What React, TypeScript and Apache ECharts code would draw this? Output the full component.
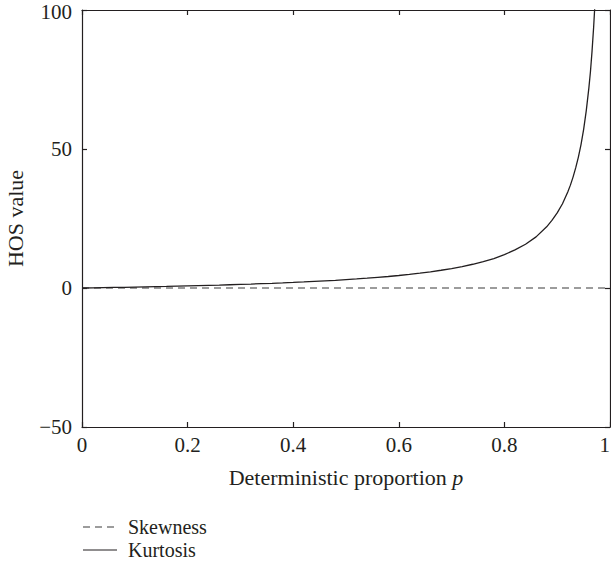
import React, { useEffect, useRef } from "react";
import * as echarts from "echarts";

const pValues = [0, 0.02, 0.04, 0.06, 0.08, 0.1, 0.12, 0.14, 0.16, 0.18, 0.2, 0.22, 0.24, 0.26, 0.28, 0.3, 0.32, 0.34, 0.36, 0.38, 0.4, 0.42, 0.44, 0.46, 0.48, 0.5, 0.52, 0.54, 0.56, 0.58, 0.6, 0.62, 0.64, 0.66, 0.68, 0.7, 0.72, 0.74, 0.76, 0.78, 0.8, 0.82, 0.84, 0.86, 0.88, 0.89, 0.9, 0.91, 0.92, 0.925, 0.93, 0.935, 0.94, 0.945, 0.95, 0.955, 0.96, 0.963, 0.966, 0.969, 0.972];
const kurtosisValues = [0, 0.06, 0.125, 0.19, 0.26, 0.33, 0.41, 0.49, 0.57, 0.66, 0.75, 0.85, 0.95, 1.05, 1.17, 1.29, 1.41, 1.55, 1.69, 1.84, 2.0, 2.17, 2.36, 2.56, 2.77, 3.0, 3.25, 3.52, 3.82, 4.14, 4.5, 4.89, 5.33, 5.82, 6.38, 7.0, 7.71, 8.54, 9.5, 10.6, 12.0, 13.7, 15.75, 18.4, 22, 24.3, 27, 30.3, 34.5, 37, 39.9, 43.2, 47, 51.5, 57, 63.7, 72, 77.9, 85.2, 93.8, 104];
const skewnessP = [0, 1];
const skewnessValues = [0, 0];
const xTicks = { min: 0, max: 1, interval: 0.2 };
const yTicks = { min: -50, max: 100, interval: 50 };
const legendNames = ["Skewness", "Kurtosis"];

const FONT = "Liberation Serif";
const TEXT = "#231f20";
const LINE = "#231f20";

export default function App() {
  const ref = useRef<HTMLDivElement>(null);
  useEffect(() => {
    if (!ref.current) return;
    const chart = echarts.init(ref.current, null, { renderer: "svg" });
    const axisLine = { show: true, onZero: false, lineStyle: { color: LINE, width: 1.2 } };
    const tick = { show: true, inside: true, length: 5, lineStyle: { color: LINE, width: 1.2 } };
    chart.setOption({
      animation: false,
      backgroundColor: "#fff",
      grid: { left: 82, right: 1, top: 10, bottom: 137, containLabel: false, outerBoundsMode: "none" },
      xAxis: [
        {
          type: "value",
          min: xTicks.min,
          max: xTicks.max,
          interval: xTicks.interval,
          axisLine,
          axisTick: tick,
          splitLine: { show: false },
          axisLabel: { fontFamily: FONT, fontSize: 21, color: TEXT, margin: 7, alignMaxLabel: "right" },
          name: "Deterministic proportion {i|p}",
          nameLocation: "middle",
          nameGap: 39,
          nameTextStyle: {
            fontFamily: FONT,
            fontSize: 22,
            color: TEXT,
            rich: { i: { fontFamily: FONT, fontSize: 22, fontStyle: "italic", color: TEXT } },
          },
        },
        {
          type: "value",
          position: "top",
          min: xTicks.min,
          max: xTicks.max,
          interval: xTicks.interval,
          axisLine,
          axisTick: tick,
          axisLabel: { show: false },
          splitLine: { show: false },
        },
      ],
      yAxis: [
        {
          type: "value",
          min: yTicks.min,
          max: yTicks.max,
          interval: yTicks.interval,
          axisLine,
          axisTick: tick,
          splitLine: { show: false },
          axisLabel: {
            fontFamily: FONT,
            fontSize: 21,
            lineHeight: 4,
            color: TEXT,
            margin: 10,
            verticalAlignMaxLabel: "top",
            formatter: (v: number) => (v < 0 ? "\u2212" + Math.abs(v) : String(v)),
          },
          name: "HOS value",
          nameLocation: "middle",
          nameGap: 56,
          nameTextStyle: { fontFamily: FONT, fontSize: 22, color: TEXT },
        },
        {
          type: "value",
          position: "right",
          min: yTicks.min,
          max: yTicks.max,
          interval: yTicks.interval,
          axisLine,
          axisTick: tick,
          axisLabel: { show: false },
          splitLine: { show: false },
        },
      ],
      graphic: [
        {
          type: "line",
          shape: { x1: 83, y1: 527, x2: 117, y2: 527 },
          style: { stroke: "#3a3a3a", lineWidth: 1.2, lineDash: [7, 5] },
        },
        {
          type: "text",
          x: 128,
          y: 527,
          style: { text: legendNames[0], fontFamily: FONT, fontSize: 20, fill: TEXT, verticalAlign: "middle" },
        },
        {
          type: "line",
          shape: { x1: 83, y1: 550, x2: 117, y2: 550 },
          style: { stroke: LINE, lineWidth: 1.2 },
        },
        {
          type: "text",
          x: 128,
          y: 550,
          style: { text: legendNames[1], fontFamily: FONT, fontSize: 20, fill: TEXT, verticalAlign: "middle" },
        },
      ],
      series: [
        {
          name: legendNames[0],
          type: "line",
          data: skewnessP.map((p, i) => [p, skewnessValues[i]]),
          symbol: "none",
          lineStyle: { color: "#3a3a3a", width: 1.2, type: [7, 5] },
          itemStyle: { color: "#3a3a3a" },
        },
        {
          name: legendNames[1],
          type: "line",
          data: pValues.map((p, i) => [p, kurtosisValues[i]]),
          symbol: "none",
          smooth: false,
          clip: true,
          lineStyle: { color: LINE, width: 1.3 },
          itemStyle: { color: LINE },
        },
      ],
    });
    return () => chart.dispose();
  }, []);
  return <div ref={ref} style={{ width: 611, height: 564, position: "absolute", left: 0, top: 0 }} />;
}
